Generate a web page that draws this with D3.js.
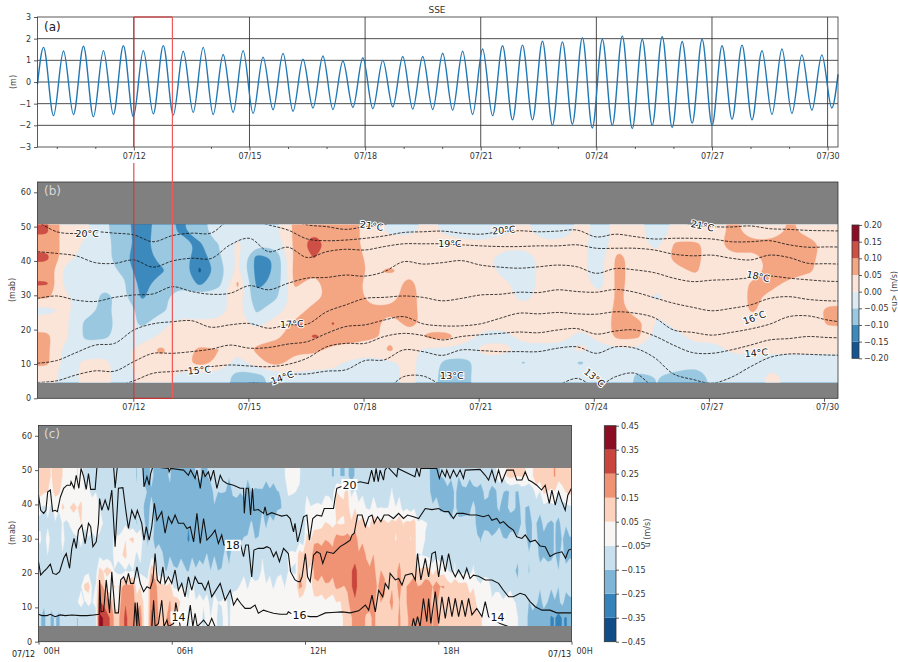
<!DOCTYPE html>
<html>
<head>
<meta charset="utf-8">
<script src="https://cdn.jsdelivr.net/npm/d3@7"></script>
<style>
body { margin: 0; background: #fff; }
text { font-family: "DejaVu Sans", sans-serif; }
</style>
</head>
<body>
<div id="chart"></div>
<script>
// ---- panel (a): sea surface elevation, highs and lows (m)
var sseFirstExtreme = 9.657, sseExtremeStep = 0.2589;
var sseStartPoint = [9.5, -0.1], sseEndPoint = [30.27, 0.35];
var sseExtremes = [1.6,-1.55,1.43,-1.5,1.65,-1.6,1.45,-1.5,1.67,-1.6,1.45,-1.47,1.68,-1.52,1.42,-1.4,1.6,-1.5,1.27,-1.4,1.45,-1.45,
  1.15,-1.28,1.32,-1.35,1.05,-1.2,1.2,-1.27,0.97,-1.17,1.12,-1.23,1,-1.15,1.18,-1.25,1.18,-1.27,1.33,-1.3,
  1.42,-1.5,1.52,-1.55,1.67,-1.75,1.7,-1.75,1.88,-2,1.85,-1.95,2.05,-2.12,1.97,-2,2.13,-2.15,1.97,-2,2.1,-2.1,1.87,-1.9,1.97,-2,
  1.67,-1.72,1.7,-1.75,1.45,-1.5,1.52,-1.45,1.25,-1.3,1.25,-1.2];
var dateTicks = [12,15,18,21,24,27,30];
var minorDays = [10,11,13,14,16,17,19,20,22,23,25,26,28,29];
var sseTicks = [-3,-2,-1,0,1,2,3];
var mabTicks = [0,10,20,30,40,50,60];

// ---- panel (b): mean u (cm/s), one row per depth top to bottom, half day columns
var uB49 = [10.5,2,1,-4,-8,-13,-7,-11,-7,-2,-3,-2,-1,6,9,8,7,2,-1,-1,1,-1,-2,-2,-1,1,-2,-2,1,-1,1,1,-2,1,1,1,7,1,1,6,2,1];
var uB45 = [8.5,3,-1,-3,-8,-12,-7,-7,-11,-5,1,-4,-3,6,14,7,7,2,2,2,2,2,1,1,2,1,1,1,1,-2,2,1,-1,6,6,3,8,7,7,7,8,2];
var uB41 = [11,2,-2,-3,-9,-13,-8,-7,-13,-6,1,-12,-9.5,6,10.2,7,8,3,2,2,1,1,1,1,-2,-2,1,1,1,-2,7,1,1,7,7,1,4,3,7,8,7,1];
var uB37 = [8,-2,-3,-3,-6,-14,-11,-6,-16,-8,1,-12,-9.5,7,6,8,8,4,6,3,1,1,1,2,-2,-2,1,1,1,-2,7,1,1,3,6,1,1,1,7,8,6,1];
var uB33 = [10.5,-2,-3,-4,-4,-12,-7,-6,-11,-7,6,-11,-9,6,3,8,8,2,2,7,1,1,1,1,1,-2,1,1,2,-2,7,1,1,1,1,1,1,6,7,3,1,1];
var uB30 = [6,1,-3,-6,-4,-11,-6,-3,-3,-2,3,-9,-6,3,3,7,8,3,3,7,2,1,1,1,1,-1,1,1,1,1,6,1,-0.5,1,1,1,1,6.5,3,1,1,1];
var uB26 = [-2,1,-3,-6,-3,-6,-6,-3,-3,-2,2,-6,-2,2,7,8,8,6,6,7,2,1,1,1,1,1,1,1,1,1,7,1,1,1,1,1,1,6,2,1,1,7];
var uB22 = [3,0.5,-6,-7,-3,-6,-2,2,1,1,2,-2,2,6,8,10.2,8,7,2,7,3,1,1,1,1,1,1,1,1,1,8,7,-1,1,1,1,1,1,1,1,1,6];
var uB18 = [6,1,-6,-6,-3,-3,1,2,2,2,1,3,4,7,10.5,9,7,6,4,2,6,7,1,-1,-1,1,1,1,-1,1,7,6,-2,-1,1,1,1,1,1,1,1,1];
var uB14 = [6,-2,-3,-2,-2,3,6,2,6,5,1,6,7,6,7,3,3,2,6,1,-1,-1,-1,1,1,-1,-1,-1,1,-1,-1,-1,-2,-2,-1,-1.5,1,1,1,1,1,1];
var uB10 = [6,-2,1,1,-2,3,4,3,7,4,-2,3,7,3,1,1,-1,-2,-1,1,-2,-7,-7,-1,-2,-5.5,-1,-2,-6,-1,-2,-2,-3,-3,-4,-3,-2,-2,-2,-2,-2,-2];
var uB7 = [2,-2,1,1,-2,1,3,-2,-2,-2,-7,-7,-3,-1,-1,-1,-2,-2,-1,1,-2,-8,-6,-2,-1,-1,-1,-1,-1,-1,-2,-6,-5,-6,-7,-4,-2,-2,1,-1,-1,-1];
var uBLevels = [-20,-15,-10,-5,0,5,10,15,20];
var uBColors = ["#155592","#3c8abd","#9ac8e0","#dcebf3","#fbe4d8","#f4a683","#cd4f45","#8c0d25"];
var uBTicks = [-0.2,-0.15,-0.1,-0.05,0,0.05,0.1,0.15,0.2];

// ---- panel (b): isotherm heights (mab) every half day from 07/09 12H
var isoDayStart = 9.5, isoDayStep = 0.5;
var iso21 = [52,52,52,52,52,52,52,52,52,52,52,52,52,52,50.5,50,49.2,50,50.6,52,52,52,52,52,52,52,52,52,52,52,52,52,52,52,50.5,50,49.9,50.2,49.4,49.2,48.9,48.8,48.7];
var iso20 = [51.5,48.5,48,48.5,48.1,47.6,45.6,47.4,48.1,48.1,52,52,50.5,49,46.4,45.9,46.1,46.6,47.3,48.3,48.5,48.7,48.1,47.8,48.5,48.8,48.5,48.7,49,47,47.8,47.1,46.4,46.6,46.6,46.4,45.6,45.6,45.9,44.7,44,44.1,44];
var iso19 = [42.7,42.2,41.5,39.5,39.3,40.3,38.2,40,40.8,40.7,44.7,46.6,42.7,44,41,42.7,43.4,43.2,44.2,45,45,45,44.7,44.4,44.2,44.2,44.4,44.4,44.7,43.7,43.7,43.7,43.2,42,41.5,41.7,40.8,40.3,41.7,41,39.3,39.2,39];
var iso18 = [29.1,29.8,28.6,28.2,29.4,30.1,30.4,32.5,31.1,30.3,30.6,32.8,31.6,33.5,35,35.2,35.9,35.6,36.9,39.8,39.1,39.5,40.1,38.8,38.2,37.9,38.3,38.8,38.3,36.4,37.8,37.4,36.6,35,34,34.4,34.6,35.1,35.6,35,34.5,34.1,34];
var iso17 = [10.2,11,13.3,15.5,16,19.9,21.7,22.3,22.6,20.7,21.4,21.8,20.4,21.4,21.6,25.2,27.2,29.1,29.4,29.8,29.4,28.4,29.1,30.1,30.3,30.9,30.8,31.6,31.1,30.9,31.7,30.9,29.3,27.7,26.5,25.5,26.2,27.2,29.1,29.6,28.8,28.4,28.3];
var iso16 = [4.6,5.1,6.8,8,7.9,10.7,13.1,13.1,13.6,14.3,15.5,14.6,14.8,15.8,16.5,18.9,20.9,21.4,22.8,23.8,21.7,21.1,21.1,21.7,23.3,24.8,24.6,25,24.6,24.5,25.2,24.8,23.5,19.9,19.2,18.4,19.2,20.2,21.6,23.8,24,22.8,22];
var iso15 = [3,3,3,3,3.4,5.1,7.3,7.8,8.3,9.2,9.7,9.4,9.2,9.9,11.7,15,16,16,18,18.9,18.3,17,18,18.5,18.9,19.3,19.1,19.9,20.3,18.7,19.6,19.9,18.2,15.5,13.3,13.1,14.1,15.5,17,17.4,18,17.7,17.6];
var iso14 = [2.5,2.5,2.5,2.5,2.5,2.5,2.5,2.5,2.5,2.5,2.5,4.4,4.4,6.8,7.1,7.9,8.3,11,11.2,14.1,13.6,12.5,14.1,13.9,13.6,13.6,13.6,14.6,15,13.1,15,14.6,11.9,7.1,5.5,4.4,6.1,9.2,11.9,12.9,12.8,12.6,12.5];
var iso13 = [3,3,3,3,3,3,3,3,3,3,3,3,3,3,3,3,3,3,2.4,6.3,6.5,3.9,3,3,3,3,3,3.9,5.8,3.4,6.3,7.3,3.4,3,3,3,3,3,3,3,3,3,3];
var isoBLines = [iso21,iso20,iso19,iso18,iso17,iso16,iso15,iso14,iso13];
var isoBLabels = ["20°C","21°C","19°C","20°C","21°C","18°C","16°C","14°C","13°C","13°C","17°C","15°C","14°C"];
var isoBLabelDay = [10.79,18.17,20.2,21.6,26.75,28.2,28.1,28.15,23.95,20.25,16.1,13.7,15.85];
var isoBLabelMab = [48,50.2,45,49,50.2,35.5,23.5,13.2,6,6.5,21.6,8.2,6];
var isoBLabelAngle = [0,8,0,-5,12,12,-20,-5,40,0,-3,-5,-20];

// ---- panel (c): u on 07/12 (cm/s), one row per depth top to bottom, 20 min columns
var uC48 = [10,6,14,2,-2,-4,-7,-8,-12,-6,-11,-9,-12,-13,-17,-15,-19,-16,-21,-18,-20,-14,-17,-11,-13,-12,-10,-9,-12,-8,-11,-9,-7,-3,-2,-6,-8,-12,-10,-13,-16,-14,-17,-12,-13,-9,-11,-8,-12,-10,-9,-11,-13,-22,-14,-12,-13,-11,-12,-8,-10,-7,-3,6,7,4,3,12,11,14,12,8];
var uC44 = [7,3,8,-2,-3,-2,-4,-6,-9,-7,-11,-10,-9,-12,-14,-18,-16,-20,-17,-22,-18,-21,-17,-16,-14,-17,-15,-13,-17,-16,-19,-18,-16,-6,-4,-7,-9,-11,-8,-6,3,6,-6,-8,-7,-9,-8,-6,-9,-7,-8,-10,-12,-21,-17,-19,-16,-18,-20,-17,-15,-17,-13,-16,-14,-12,-9,-4,6,3,-4,7];
var uC39 = [-6,-5,-3,4,7,6,-3,3,-7,-8,-13,-11,-14,-12,-16,-15,-18,-19,-21,-18,-20,-22,-19,-18,-20,-18,-19,-20,-22,-21,-18,-20,-17,-10,-7,-9,-3,-4,-2,-1,6,7,2,-2,-5,-3,-6,-4,-3,-7,-9,-11,-12,-10,-16,-18,-16,-19,-15,-17,-18,-16,-17,-15,-14,-16,-13,-11,-9,-8,-10,-7];
var uC34 = [-7,-8,-6,-7,-2,3,-3,2,-4,-6,-11,-9,-12,-13,-15,-14,-19,-20,-22,-21,-22,-23,-22,-19,-20,-18,-17,-19,-16,-17,-15,-12,-9,-11,-8,-10,-2,-1,4,5,3,6,8,7,5,9,7,6,8,6,7,-2,-6,-7,-9,-12,-11,-13,-12,-18,-20,-22,-19,-21,-17,-16,-15,-17,-14,-16,-15,-13];
var uC30 = [-6,-5,-7,-6,-8,-5,-7,-6,-9,-11,-3,2,6,3,-14,-15,-17,-20,-22,-22,-24,-21,-22,-21,-19,-19,-18,-15,-12,-14,-11,-13,-10,-12,-9,-11,5,12,13,14,17,19,18,12,10,9,7,8,6,8,5,3,-7,-8,-10,-11,-12,-10,-11,-13,-12,-11,-13,-14,-12,-14,-15,-16,-18,-16,-17,-16];
var uC25 = [-8,-7,-9,-8,-7,-9,-8,-10,-9,-11,-3,6,-2,-4,-13,-12,-14,-18,-19,-17,-18,-17,-16,-18,-17,-15,-11,-9,-11,-10,-8,-9,-7,-6,-3,9,11,20,22,21,20,19,18,17,15,13,12,13,11,12,10,-4,-8,-10,-9,-11,-8,-10,-9,-11,-10,-12,-10,-13,-12,-14,-12,-15,-17,-16,-15,-17];
var uC21 = [-11,-9,-10,-8,-11,-9,-10,-11,6,8,-7,-8,-6,-9,-10,11,-13,-14,-12,-15,-13,-14,-12,-13,-14,-11,-8,-7,-9,-8,-6,-7,-8,-7,-5,13,3,16,19,20,20,24,26,22,17,15,14,13,15,12,9,8,7,4,2,-6,-7,-8,-6,-10,-12,-13,-11,-12,-14,-11,-13,-12,-10,-12,-13,-11];
var uC16 = [-13,-11,-12,-10,-13,-8,9,-5,16,-3,4,16,18,3,2,21,9,7,-6,-7,-5,-8,-10,-9,-11,-10,-8,-3,-4,-2,-3,-4,-2,-3,-1,16,-1,13,12,14,15,16,26,23,19,17,15,13,15,14,18,17,19,17,16,9,11,8,2,-1,1,-8,-11,-10,-12,-13,-11,-13,-12,-14,-13,-11];
var uC12 = [-13,-12,-11,-13,-6,-4,-5,-3,24,20,-1,22,18,12,2,22,11,13,12,2,-2,-4,-3,-6,-4,-5,-2,-1,1,-1,-2,1,-2,-1,1,-1,1,-1,2,1,3,12,21,22,20,15,14,15,13,14,18,19,17,15,12,12,13,10,11,2,1,-1,-2,1,-4,-8,-13,-16,-14,-17,-15,-18];
var uC7 = [-16,-14,-15,-13,-12,-14,-11,-10,36,26,11,24,24,20,3,24,13,16,6,-3,-4,-2,-5,-3,-6,-4,-2,-1,-3,-1,-2,-1,-3,-2,-1,-2,-2,-1,-3,-2,-1,8,16,17,14,15,13,12,14,13,17,19,18,17,12,10,11,12,9,8,2,-1,-2,1,-3,-8,-18,-22,-19,-26,-27,-24];
// streaks that run through the whole water column, 10 min columns
var uCStreaks = [1.5,-1,2,-2,0.5,-1.5,2.5,-0.5,-2,1,-1.5,2,
  -1,1.5,-2.5,0.5,2,-1.5,1,-2,1.5,-0.5,-2,2.5,
  -1,1,-2.5,1.5,0.5,-1.5,2,-2,1,-0.5,-1.5,2.5,
  -1,-2,1.5,0.5,-2.5,2,-0.5,1,-1.5,1.5,-2,2.5,
  -1,-0.5,2,-2.5,1,1.5,-1.5,0.5,-2,2,-1,-0.5,
  2.5,-1.5,1,-2,0.5,1.5,-2.5,2,-0.5,-1,1.5,-2,
  2.5,-1.5,0.5,1,-2,1.5,-0.5,-2.5,2,1,-1.5,0.5,
  -2,2.5,-1,1.5,-0.5,-1.5,2,-2.5,1,0.5,-1,1.5,
  -2,2,-1.5,1,-0.5,2.5,-2,-1,1.5,0.5,-2.5,2,
  -1,-0.5,1.5,-1.5,2.5,-2,0.5,1,-1.5,2,-0.5,-2.5,
  1.5,1,-2,0.5,2.5,-1.5,-1,2,-0.5,-2,1.5,1,
  -2.5,0.5,2,-1.5,1,-1,-0.5,1.5,-2,2.5,-1.5,0.5];
var uCLevels = [-45,-35,-25,-15,-5,5,15,25,35,45];
var uCColors = ["#0f4c88","#3683bb","#7fb6d7","#c8e0ee","#f7f6f5","#fcd2bc","#f09375","#c9463e","#8b0e25"];

// ---- panel (c): isotherms, [minute of day, mab]
var isoC20 = [[0,42.7],[6,38.3],[14,37.4],[20,38.3],[25,43.7],[32,44.2],[38,38],[45,38.3],[51,37.9],[59,42.1],[68,44.7],[77,45.6],[86,45.6],[88,46.6],[96,44.7],[102,48.5],[109,44.7],[115,50.5],[122,48.1],[129,44.4],[135,49],[141,44.4],[153,44.4],[158,51],[203,51],[207,44.8],[213,51],[282,51],[285,45.1],[293,48.1],[299,45.6],[303,49],[309,51],[351,50.5],[353,49.5],[357,50.5],[392,50],[405,48.5],[411,50],[423,47.6],[428,50],[437,44.7],[444,50],[450,48.1],[459,49.5],[465,47.1],[473,50],[482,44.7],[491,48.5],[498,46.9],[509,46.1],[527,45.6],[545,44.7],[554,44.7],[556,37.4],[561,44.7],[567,44.7],[573,36.9],[578,44.7],[582,38.3],[594,38.5],[608,37.4],[612,39.3],[617,36.9],[630,37.6],[648,36.9],[657,36.6],[671,36.9],[680,35.9],[689,32],[693,34.5],[700,29.1],[707,32],[716,36.4],[725,36.9],[732,29.6],[741,35.9],[752,36.9],[765,36.6],[772,38.8],[797,38.8],[801,41.7],[806,44.7],[815,45.1],[869,46.6],[891,46.1],[900,50],[907,46.6],[912,50.5],[918,46.6],[923,50],[932,47.1],[936,50],[943,51],[968,48.1],[971,50.5],[1017,48.1],[1022,50.5],[1029,48.1],[1033,50.5],[1076,50.5],[1083,47.6],[1090,50],[1099,48.1],[1103,50],[1112,47.6],[1121,50],[1130,48.1],[1139,50],[1148,47.6],[1153,50],[1193,50.2],[1207,48.5],[1216,47.1],[1225,50],[1234,46.6],[1243,50],[1252,46.6],[1265,50],[1283,50],[1292,47.1],[1306,47.1],[1315,49.5],[1324,47.1],[1333,46.6],[1346,45.6],[1359,44.2],[1369,45.6],[1380,40.3],[1387,44.2],[1396,39.8],[1405,43.7],[1414,40.8],[1423,38.3],[1430,42.7],[1440,44.7]];
var isoC18 = [[0,23.3],[6,19.4],[14,20.4],[23,21.4],[32,22.6],[39,19.9],[48,19.6],[57,20.4],[68,24.3],[75,25.7],[84,21.4],[90,27.2],[96,30.1],[102,27.2],[108,32.5],[117,34],[126,28.6],[135,34.5],[141,33.5],[147,27.7],[156,29.1],[162,34.5],[165,41.7],[171,38.3],[180,41.3],[189,38.3],[198,44.2],[207,27.7],[216,44.7],[228,44.9],[237,37.4],[243,33],[252,38.3],[261,35.9],[267,38.3],[279,34.5],[285,29.6],[291,33.5],[299,29.6],[306,33.5],[313,40.3],[320,35.4],[333,37.9],[342,31.6],[351,36.4],[360,34.5],[369,36.9],[378,34.5],[392,34.5],[401,33],[410,33.5],[419,29.1],[428,37.4],[437,28.6],[446,35.9],[455,29.6],[468,31.1],[477,32.5],[486,28.6],[495,31.1],[501,28.2],[546,28.2],[554,24.8],[560,28.2],[567,28.2],[576,18.9],[582,26.7],[594,27.2],[608,27.2],[617,27.7],[626,27.2],[635,24.8],[642,26.2],[651,23.3],[662,27.2],[675,25.7],[681,20.4],[693,18],[702,17.5],[707,17.5],[712,18.9],[721,25.7],[727,18.9],[734,17.5],[743,25.2],[752,26.2],[761,25.7],[768,22.8],[779,26.2],[797,25.7],[815,27.7],[829,28.6],[842,29.6],[847,31.1],[853,31.6],[862,36.9],[874,36.9],[883,33.5],[892,36.4],[901,36.9],[907,34.5],[916,36.4],[925,35],[934,36.9],[946,36.9],[959,35.9],[973,37.4],[986,35.9],[997,36.9],[1013,36.4],[1027,35.9],[1045,38.8],[1063,38.5],[1081,38.8],[1096,37.9],[1108,37.9],[1121,35.9],[1130,37.4],[1148,37.4],[1166,36.9],[1184,36.9],[1202,36.4],[1216,36.9],[1225,35.4],[1238,35.9],[1247,34.5],[1256,35],[1270,33.5],[1283,32.5],[1292,30.6],[1306,30.1],[1315,31.1],[1328,29.1],[1342,29.6],[1355,27.9],[1369,27.7],[1382,24.8],[1396,25.7],[1414,26.2],[1424,24.3],[1432,26.7],[1440,27]];
var isoC16 = [[0,8],[9,7.6],[23,7.6],[32,8],[45,7.3],[59,7.8],[72,7.6],[90,7.8],[113,7.6],[131,7.6],[149,7.8],[164,8],[165,18],[169,8.7],[176,8.9],[183,18],[192,8.4],[198,20.4],[207,8.4],[216,8.4],[222,18],[230,18.9],[237,17],[243,19.9],[249,17],[257,17],[266,21.8],[275,17],[284,14.6],[293,16],[302,15.5],[309,18],[315,25.7],[321,18],[329,17],[336,21.8],[342,17],[351,18.9],[360,17],[369,20.9],[378,15],[387,17],[396,13.1],[405,18.9],[414,15],[423,18.9],[432,17],[441,17],[450,15],[459,17.5],[468,13.1],[477,14.6],[491,17],[504,12.1],[518,15],[527,10.7],[537,12.6],[546,11.2],[558,9.7],[572,9.7],[585,10.7],[594,8.3],[608,9.2],[621,8.7],[635,8.3],[653,8],[671,8],[675,8.7],[681,8.3],[734,7.3],[752,7.3],[775,8.4],[793,8.5],[820,8.7],[842,8.4],[865,9],[883,10.7],[892,9.2],[901,13.6],[910,8.7],[919,15],[930,13.1],[937,17],[946,15.5],[950,19.9],[964,18],[973,18.4],[982,16.5],[991,19.4],[1009,19.9],[1018,18],[1024,25.7],[1033,18],[1045,24.3],[1054,18.9],[1063,25.7],[1072,26.2],[1081,18.9],[1090,25.2],[1099,20.4],[1108,25.7],[1117,20.9],[1126,18.9],[1135,20.9],[1148,18.4],[1157,21.4],[1166,18.4],[1175,19.4],[1189,19.1],[1207,18],[1225,18],[1243,17],[1256,15],[1270,13.1],[1283,13.1],[1301,14.1],[1315,13.6],[1328,11.7],[1342,10.2],[1360,9.2],[1382,9.2],[1400,8.4],[1440,8.4]];
var isoC14 = [[257,3.9],[261,11.4],[266,3.9],[267,11.4],[273,3.9],[306,3.9],[311,12.1],[315,4.4],[324,5.3],[333,12.1],[339,4.4],[347,6.3],[351,4.4],[365,5.3],[371,11.4],[383,4.4],[401,3.9],[410,10.7],[417,4.4],[423,8.3],[429,4.4],[437,5.3],[446,6.3],[453,5.3],[459,4.4],[468,6.8],[477,4.4],[486,2.5],[1004,2.5],[1009,4.4],[1013,6.8],[1018,4.4],[1024,7.3],[1031,4.4],[1040,12.6],[1049,5.8],[1054,12.6],[1060,5.3],[1072,14.6],[1081,5.3],[1090,13.1],[1099,6.8],[1108,13.1],[1117,7.3],[1126,12.6],[1135,7.3],[1144,12.1],[1153,7.3],[1162,12.6],[1171,7.8],[1184,9.7],[1198,7.3],[1207,11.7],[1216,7.3],[1247,5.3],[1270,4.4],[1310,4.2]];
var isoCLabels = ["20","18","16","14","14"];
var isoCLabelMin = [840,525,705,378,1240];
var isoCLabelMab = [45.8,28.1,7.7,7.2,7.2];
var hourTicks = [0,360,720,1080,1440];
var hourLabels = ["00H","06H","12H","18H","00H"];

// the depth range the currents cover
var dataTop = 50.6, dataBottom = 4.6;

var svg = d3.select("#chart").append("svg")
    .attr("width", 898)
    .attr("height", 662);

// shared scales
var xDay = d3.scaleLinear().domain([9.5, 30.27]).range([37.5, 838]);
// the tick marks of panel (b) run a touch tighter than panel (a)
var xDayB = d3.scaleLinear().domain([9.503, 30.365]).range([37.5, 838]);
var ySse = d3.scaleLinear().domain([-3, 3]).range([147, 17]);
var yB = d3.scaleLinear().domain([0, 63]).range([398.3, 182]);
var xMin = d3.scaleLinear().domain([0, 1440]).range([38.5, 571.5]);
var yC = d3.scaleLinear().domain([0, 63]).range([641.7, 425.5]);

function styleAxis(g) {
  g.selectAll("text").style("font-size", "8px").style("fill", "#333");
  g.selectAll("line").style("stroke", "#333").style("stroke-width", 0.8);
  g.select(".domain").remove();
}

function frame(x0, y0, x1, y1) {
  svg.append("rect")
      .attr("x", x0).attr("y", y0)
      .attr("width", x1 - x0).attr("height", y1 - y0)
      .attr("fill", "none")
      .attr("stroke", "#333")
      .attr("stroke-width", 0.8);
}

// filled contours on a grid, painted from the lowest level up.
// grid gets repeated edges so the contours do not bevel at the panel corners
function contourf(clip, rows, levels, colors, xr, yr, curve) {
  var wide = rows.map(function(r) { return [r[0]].concat(r, [r[r.length - 1]]); });
  var full = [wide[0]].concat(wide, [wide[wide.length - 1]]);
  var n = full[0].length, m = full.length;
  var gx = d3.scaleLinear().domain([1, n - 1]).range(xr);
  var gy = d3.scaleLinear().domain([1, m - 1]).range(yr);
  var ring = d3.line()
      .x(function(p) { return gx(p[0]); })
      .y(function(p) { return gy(p[1]); })
      .curve(curve);
  var contours = d3.contours().size([n, m]).thresholds(levels.slice(0, -1));
  svg.append("g")
      .attr("clip-path", "url(#" + clip + ")")
    .selectAll("path")
      .data(contours(full.flat()))
    .enter().append("path")
      .attr("d", function(d) {
        return d.coordinates.map(function(poly) {
          return poly.map(function(r) { return ring(r.slice(0, -1)); }).join("");
        }).join("");
      })
      .attr("fill", function(d, i) { return colors[i]; })
      .attr("stroke", function(d, i) { return colors[i]; })
      .attr("stroke-width", 0.3);
}

function colorbar(x0, x1, y0, y1, values, colors, tickVals, tickFormat) {
  var s = d3.scaleLinear().domain([values[0], values[values.length - 1]]).range([y1, y0]);
  svg.append("g").selectAll("rect")
      .data(colors)
    .enter().append("rect")
      .attr("x", x0)
      .attr("width", x1 - x0)
      .attr("y", function(d, i) { return s(values[i + 1]); })
      .attr("height", function(d, i) { return s(values[i]) - s(values[i + 1]); })
      .attr("fill", function(d) { return d; });
  svg.append("g")
      .attr("transform", "translate(" + x1 + ",0)")
      .call(d3.axisRight(s).tickValues(tickVals).tickFormat(tickFormat).tickSize(3).tickPadding(2))
      .call(styleAxis);
  frame(x0, y0, x1, y1);
}

function yLabel(x, y, txt) {
  svg.append("text")
      .attr("transform", "translate(" + x + "," + y + ") rotate(-90)")
      .attr("text-anchor", "middle")
      .style("font-size", "8px")
      .style("fill", "#444")
      .text(txt);
}

function panelTag(x, y, txt, col) {
  svg.append("text")
      .attr("x", x).attr("y", y)
      .style("font-size", "12px")
      .style("fill", col)
      .text(txt);
}

// PANEL A
var sseDays = [sseStartPoint[0]], sseVals = [sseStartPoint[1]];
sseExtremes.forEach(function(v, i) {
  sseDays.push(sseFirstExtreme + i * sseExtremeStep);
  sseVals.push(v);
});
sseDays.push(sseEndPoint[0]);
sseVals.push(sseEndPoint[1]);

svg.append("g").selectAll("line")
    .data(sseTicks.slice(1, -1))
  .enter().append("line")
    .attr("x1", 37.5).attr("x2", 838)
    .attr("y1", function(d) { return ySse(d); })
    .attr("y2", function(d) { return ySse(d); })
    .attr("stroke", "#222").attr("stroke-width", 0.8);
svg.append("g").selectAll("line")
    .data(dateTicks)
  .enter().append("line")
    .attr("x1", function(d) { return xDay(d); })
    .attr("x2", function(d) { return xDay(d); })
    .attr("y1", 17).attr("y2", 147)
    .attr("stroke", "#222").attr("stroke-width", 0.8);

var sseLine = d3.line()
    .x(function(d, i) { return xDay(sseDays[i]); })
    .y(function(d) { return ySse(d); })
    .curve(d3.curveMonotoneX);
svg.append("path")
    .attr("d", sseLine(sseVals))
    .attr("fill", "none")
    .attr("stroke", "#1f77b4")
    .attr("stroke-width", 1.4);

svg.append("g")
    .attr("transform", "translate(0,147)")
    .call(d3.axisBottom(xDay).tickValues(dateTicks)
      .tickFormat(function(d) { return "07/" + d; }).tickSize(3.5).tickPadding(3))
    .call(styleAxis);
svg.append("g")
    .attr("transform", "translate(0,147)")
    .call(d3.axisBottom(xDay).tickValues(minorDays).tickFormat("").tickSize(2))
    .call(styleAxis);
svg.append("g")
    .attr("transform", "translate(37.5,0)")
    .call(d3.axisLeft(ySse).tickValues(sseTicks).tickSize(3.5).tickPadding(3)
      .tickFormat(function(d) { return d3.format("d")(d).replace("-", "−"); }))
    .call(styleAxis);
frame(37.5, 17, 838, 147);
yLabel(16, 82, "(m)");
panelTag(44, 31, "(a)", "#222");
svg.append("text")
    .attr("x", 437).attr("y", 13)
    .attr("text-anchor", "middle")
    .style("font-size", "9px")
    .style("fill", "#333")
    .text("SSE");

// PANEL B
var defs = svg.append("defs");
defs.append("clipPath").attr("id", "clipB").append("rect")
    .attr("x", 37.5).attr("width", 800.5)
    .attr("y", yB(dataTop)).attr("height", yB(dataBottom) - yB(dataTop));
defs.append("clipPath").attr("id", "clipC").append("rect")
    .attr("x", 38.5).attr("width", 533)
    .attr("y", yC(dataTop)).attr("height", yC(dataBottom) - yC(dataTop));

svg.append("rect")
    .attr("x", 37.5).attr("y", 182)
    .attr("width", 800.5).attr("height", 216.3)
    .attr("fill", "#808080");
contourf("clipB", [uB49,uB45,uB41,uB37,uB33,uB30,uB26,uB22,uB18,uB14,uB10,uB7], uBLevels, uBColors,
    [37.5, 838], [yB(dataTop), yB(dataBottom)], d3.curveBasisClosed);

var isoLineB = d3.line()
    .x(function(d, i) { return xDay(isoDayStart + i * isoDayStep); })
    .y(function(d) { return yB(d); })
    .curve(d3.curveCatmullRom);
svg.append("g")
    .attr("clip-path", "url(#clipB)")
  .selectAll("path")
    .data(isoBLines)
  .enter().append("path")
    .attr("d", function(d) { return isoLineB(d); })
    .attr("fill", "none")
    .attr("stroke", "#111")
    .attr("stroke-width", 0.8)
    .attr("stroke-dasharray", "3,1.4");

svg.append("g").selectAll("text")
    .data(isoBLabels)
  .enter().append("text")
    .attr("transform", function(d, i) {
      return "translate(" + xDay(isoBLabelDay[i]) + "," + yB(isoBLabelMab[i]) + ") rotate(" + isoBLabelAngle[i] + ")";
    })
    .attr("text-anchor", "middle")
    .attr("dy", "0.35em")
    .style("font-size", "9.5px")
    .style("fill", "#111")
    .style("stroke", "#fff")
    .style("stroke-width", 2)
    .style("paint-order", "stroke")
    .text(function(d) { return d; });

svg.append("g")
    .attr("transform", "translate(0,398.3)")
    .call(d3.axisBottom(xDayB).tickValues(dateTicks).tickFormat("").tickSize(3.5))
    .call(styleAxis);
svg.append("g").selectAll("text")
    .data(dateTicks)
  .enter().append("text")
    .attr("x", function(d) { return xDay(d); })
    .attr("y", 410)
    .attr("text-anchor", "middle")
    .style("font-size", "8px")
    .style("fill", "#333")
    .text(function(d) { return "07/" + d; });
// faint marks left in front of the last two labels
svg.append("g").selectAll("text")
    .data(dateTicks.slice(-2))
  .enter().append("text")
    .attr("x", function(d) { return xDay(d) - 14; })
    .attr("y", 410)
    .attr("text-anchor", "middle")
    .style("font-size", "7px")
    .style("fill", "#bbb")
    .text(":");
svg.append("g")
    .attr("transform", "translate(37.5,0)")
    .call(d3.axisLeft(yB).tickValues(mabTicks).tickSize(3.5).tickPadding(3))
    .call(styleAxis);
frame(37.5, 182, 838, 398.3);
yLabel(15, 290, "(mab)");
panelTag(44, 195, "(b)", "#d8d8d8");

// red box marking the day shown in panel (c), broken behind the 07/12 label
svg.append("path")
    .attr("d", "M" + xDay(12) + "," + ySse(-3) + "V" + ySse(3) + "H" + xDay(13))
    .attr("fill", "none")
    .attr("stroke", "#dd2c2c")
    .attr("stroke-width", 1);
svg.append("path")
    .attr("d", "M" + xDay(12) + ",163V" + yB(0) + "H" + xDay(13))
    .attr("fill", "none")
    .attr("stroke", "#dd2c2c")
    .attr("stroke-width", 1);
svg.append("path")
    .attr("d", "M" + xDay(13) + "," + ySse(3) + "V" + yB(0))
    .attr("fill", "none")
    .attr("stroke", "#ef5a5a")
    .attr("stroke-width", 1.2);

colorbar(852, 859, 225, 358.3, uBTicks, uBColors, uBTicks, d3.format(".2f"));
yLabel(897, 292, "<u> (m/s)");

// PANEL C
svg.append("rect")
    .attr("x", 38.5).attr("y", 425.5)
    .attr("width", 533).attr("height", 216.2)
    .attr("fill", "#808080");
var uCRows = [uC48,uC44,uC39,uC34,uC30,uC25,uC21,uC16,uC12,uC7].map(function(r) {
  return r.flatMap(function(v, i) { return [v + uCStreaks[2 * i], v + uCStreaks[2 * i + 1]]; });
});
contourf("clipC", uCRows, uCLevels, uCColors,
    [38.5, 571.5], [yC(dataTop), yC(dataBottom)], d3.curveLinearClosed);

var isoLineC = d3.line()
    .x(function(d) { return xMin(d[0]); })
    .y(function(d) { return yC(d[1]); });
svg.append("g")
    .attr("clip-path", "url(#clipC)")
  .selectAll("path")
    .data([isoC20, isoC18, isoC16, isoC14])
  .enter().append("path")
    .attr("d", function(d) { return isoLineC(d); })
    .attr("fill", "none")
    .attr("stroke", "#111")
    .attr("stroke-width", 1.1);

var cLabels = svg.append("g").selectAll("g")
    .data(isoCLabels)
  .enter().append("g")
    .attr("transform", function(d, i) {
      return "translate(" + xMin(isoCLabelMin[i]) + "," + yC(isoCLabelMab[i]) + ")";
    });
cLabels.append("rect")
    .attr("x", -8).attr("y", -5.5).attr("width", 16).attr("height", 11)
    .attr("fill", "#fff");
cLabels.append("text")
    .attr("text-anchor", "middle")
    .attr("dy", "0.37em")
    .style("font-size", "11px")
    .style("fill", "#111")
    .text(function(d) { return d; });

svg.append("g")
    .attr("transform", "translate(0,641.7)")
    .call(d3.axisBottom(xMin).tickValues(hourTicks).tickFormat("").tickSize(3))
    .call(styleAxis);
svg.append("g").selectAll("text")
    .data(hourLabels)
  .enter().append("text")
    .attr("x", function(d, i) { return xMin(hourTicks[i]) + 5; })
    .attr("y", 653.5)
    .style("font-size", "8px")
    .style("fill", "#333")
    .text(function(d) { return d; });
svg.append("text").attr("x", 12).attr("y", 657).style("font-size", "8px").style("fill", "#222").text("07/12");
svg.append("text").attr("x", 548).attr("y", 657).style("font-size", "8px").style("fill", "#222").text("07/13");
svg.append("g")
    .attr("transform", "translate(38.5,0)")
    .call(d3.axisLeft(yC).tickValues(mabTicks).tickSize(3.5).tickPadding(3))
    .call(styleAxis);
frame(38.5, 425.5, 571.5, 641.7);
yLabel(15, 533, "(mab)");
panelTag(44, 438, "(c)", "#d8d8d8");

var uCBarTicks = uCLevels.map(function(d) { return d / 100; });
colorbar(604.3, 616, 425.7, 641.7, uCBarTicks, uCColors, uCBarTicks, d3.format(".2f"));
yLabel(650, 533, "u (m/s)");
</script>
</body>
</html>
